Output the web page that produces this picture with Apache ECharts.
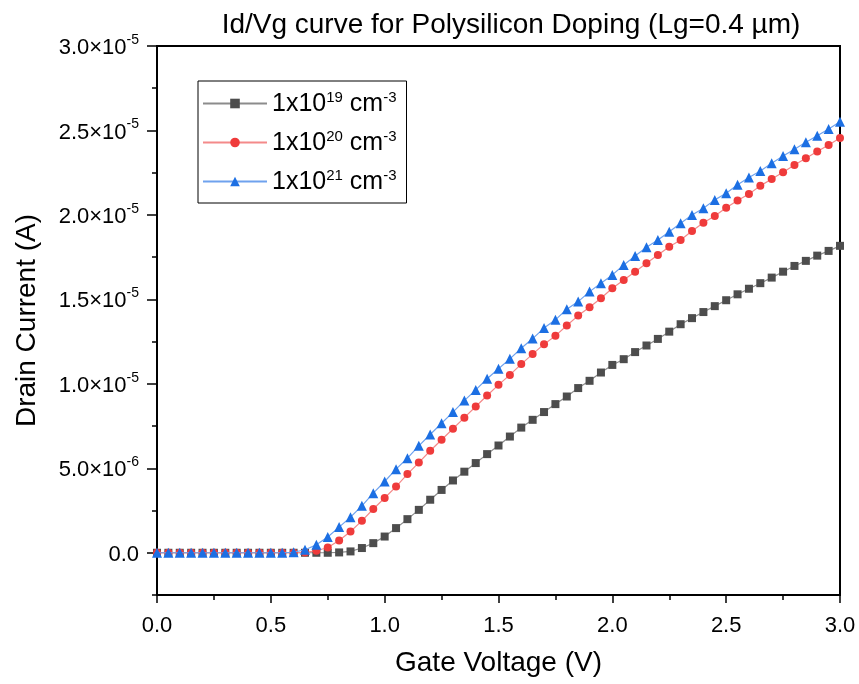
<!DOCTYPE html>
<html>
<head>
<meta charset="utf-8">
<script src="https://cdn.jsdelivr.net/npm/echarts@6/dist/echarts.min.js"></script>
<style>html,body{margin:0;padding:0;background:#fff}#c{width:859px;height:684px}</style>
</head>
<body>
<div id="c"></div>
<script>
// Gate voltage (V)
var gateVoltage = [0.00,0.05,0.10,0.15,0.20,0.25,0.30,0.35,0.40,0.45,0.50,0.55,0.60,0.65,0.70,0.75,0.80,0.85,0.90,0.95,
  1.00,1.05,1.10,1.15,1.20,1.25,1.30,1.35,1.40,1.45,1.50,1.55,1.60,1.65,1.70,1.75,1.80,1.85,1.90,1.95,
  2.00,2.05,2.10,2.15,2.20,2.25,2.30,2.35,2.40,2.45,2.50,2.55,2.60,2.65,2.70,2.75,2.80,2.85,2.90,2.95,3.00];
// Drain current in units of 1e-6 A
var dope1e19 = [0,0,0,0,0,0,0,0,0,0,0,0,0,0,0,0,0.02,0.08,0.28,0.57,
  0.96,1.46,1.99,2.54,3.14,3.72,4.28,4.80,5.31,5.84,6.35,6.88,7.41,7.87,8.33,8.80,9.25,9.75,10.18,10.67,
  11.12,11.46,11.88,12.27,12.66,13.09,13.53,13.89,14.25,14.60,14.95,15.30,15.63,15.96,16.29,16.64,16.98,17.28,17.59,17.87,18.17];
var dope1e20 = [0,0,0,0,0,0,0,0,0,0,0,0,0,0.02,0.12,0.31,0.73,1.26,1.89,2.59,
  3.24,3.92,4.66,5.34,6.04,6.69,7.34,8.00,8.66,9.31,9.94,10.53,11.17,11.76,12.35,12.84,13.45,14.04,14.54,15.07,
  15.66,16.15,16.64,17.14,17.63,18.12,18.52,19.05,19.54,19.94,20.43,20.85,21.24,21.72,22.13,22.53,22.96,23.36,23.75,24.14,24.56];
var dope1e21 = [0,0,0,0,0,0,0,0,0,0,0,0,0.03,0.18,0.47,0.93,1.52,2.11,2.78,3.53,
  4.22,4.95,5.60,6.33,7.00,7.67,8.33,9.01,9.64,10.30,10.89,11.48,12.11,12.68,13.30,13.79,14.42,14.87,15.46,15.96,
  16.45,17.04,17.57,18.09,18.52,19.01,19.51,20.00,20.40,20.89,21.28,21.78,22.21,22.60,23.06,23.49,23.89,24.30,24.69,25.09,25.52];

var seriesNames = ['1e19', '1e20', '1e21'];
var legendBase = ['1x10', '1x10', '1x10'];
var legendExp = ['19', '20', '21'];

var yMajorTicks = [0, 5, 10, 15, 20, 25, 30];
var yMajorMant = ['0.0', '5.0', '1.0', '1.5', '2.0', '2.5', '3.0'];
var yMajorExp = ['', '-6', '-5', '-5', '-5', '-5', '-5'];
var yMinorTicks = [-2.5, 2.5, 7.5, 12.5, 17.5, 22.5, 27.5];

function pairs(ys) { return gateVoltage.map(function (x, i) { return [x, ys[i]]; }); }

var chart = echarts.init(document.getElementById('c'), null, {renderer: 'canvas'});
var FF = '"Liberation Sans", Arial, sans-serif';

var colors = ['#4d4d4d', '#ef3b3b', '#1c6fe3'];
var lineColors = ['#8c8c8c', '#f48a8a', '#6fa2ee'];
var symbols = ['rect', 'circle', 'triangle'];
var symbolSizes = [8, 8, 10];
var datasets = [dope1e19, dope1e20, dope1e21];

chart.setOption({
  animation: false,
  backgroundColor: '#fff',
  title: {
    text: 'Id/Vg curve for Polysilicon Doping (Lg=0.4 µm)',
    left: 506, top: 6, textAlign: 'center',
    textStyle: {fontFamily: FF, fontSize: 28, fontWeight: 'normal', color: '#000'}
  },
  grid: {left: 157, right: 19, top: 46, bottom: 89, show: true, borderColor: '#000', borderWidth: 2, backgroundColor: 'transparent'},
  legend: {
    orient: 'vertical', left: 198, top: 81,
    data: seriesNames,
    itemWidth: 64, itemHeight: 12, itemGap: 12,
    padding: [9, 10, 8, 4],
    borderColor: '#000', borderWidth: 1,
    formatter: function (name) {
      var i = seriesNames.indexOf(name);
      return '{b|' + legendBase[i] + '}{s|' + legendExp[i] + '}{b| cm}{s|-3}';
    },
    textStyle: {
      fontFamily: FF, color: '#000',
      rich: {
        b: {fontFamily: FF, fontSize: 25, color: '#000', lineHeight: 27, verticalAlign: 'bottom'},
        s: {fontFamily: FF, fontSize: 15, color: '#000', lineHeight: 27, verticalAlign: 'top'}
      }
    }
  },
  xAxis: {
    type: 'value', min: 0, max: 3, interval: 0.5, position: 'bottom',
    name: 'Gate Voltage (V)', nameLocation: 'middle', nameGap: 54,
    nameTextStyle: {fontFamily: FF, fontSize: 28, color: '#000'},
    axisLine: {onZero: false, lineStyle: {color: '#000', width: 2}},
    axisTick: {length: 8, lineStyle: {color: '#000', width: 1.5}},
    minorTick: {show: true, splitNumber: 2, length: 5, lineStyle: {color: '#000', width: 1.5}},
    splitLine: {show: false},
    axisLabel: {fontFamily: FF, fontSize: 22, color: '#000', margin: 20,
      formatter: function (v) { return v.toFixed(1); }}
  },
  yAxis: [{
    type: 'value', min: -2.5, max: 30, position: 'left',
    name: 'Drain Current (A)', nameLocation: 'middle', nameGap: 116, nameRotate: 90,
    nameTextStyle: {fontFamily: FF, fontSize: 28, color: '#000'},
    axisLine: {onZero: false, lineStyle: {color: '#000', width: 2}},
    axisTick: {length: 10, customValues: yMajorTicks, lineStyle: {color: '#000', width: 1.5}},
    splitLine: {show: false},
    axisLabel: {
      customValues: yMajorTicks, margin: 18, fontFamily: FF, fontSize: 22, color: '#000',
      formatter: function (v) {
        var i = yMajorTicks.indexOf(v);
        if (i < 0) return '';
        if (!yMajorExp[i]) return '{m|' + yMajorMant[i] + '}';
        return '{m|' + yMajorMant[i] + '×10}{e|' + yMajorExp[i] + '}';
      },
      rich: {
        m: {fontFamily: FF, fontSize: 22, color: '#000', lineHeight: 26, verticalAlign: 'bottom'},
        e: {fontFamily: FF, fontSize: 14, color: '#000', lineHeight: 26, verticalAlign: 'top'}
      }
    }
  }, {
    type: 'value', min: -2.5, max: 30, position: 'left',
    axisLine: {show: false},
    axisTick: {length: 5, customValues: yMinorTicks, lineStyle: {color: '#000', width: 1.5}},
    axisLabel: {show: false},
    splitLine: {show: false}
  }],
  series: datasets.map(function (d, i) {
    return {
      name: seriesNames[i], type: 'line', yAxisIndex: 0,
      data: pairs(d),
      symbol: symbols[i], symbolSize: symbolSizes[i], showSymbol: true,
      itemStyle: {color: colors[i]},
      lineStyle: {color: lineColors[i], width: 1.2},
      z: 2 + i
    };
  })
});
</script>
</body>
</html>
